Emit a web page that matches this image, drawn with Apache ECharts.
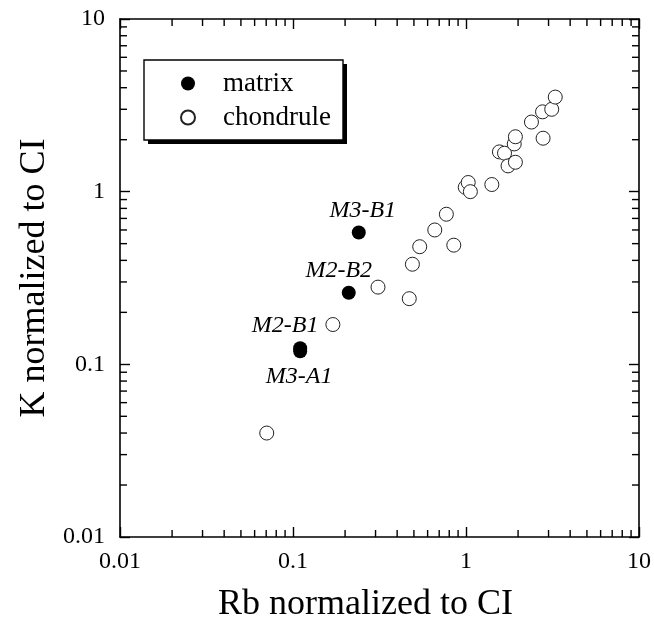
<!DOCTYPE html>
<html lang="en">
<head>
    <meta charset="UTF-8">
    <title>K vs Rb normalized to CI</title>
    <script src="https://cdn.jsdelivr.net/npm/echarts@6/dist/echarts.min.js"></script>
    <style>
        html, body { margin: 0; padding: 0; background: #fff; }
    </style>
</head>
<body>
<div id="main" style="width: 654px;height: 629px;"></div>

<script type="text/javascript">
    // data
    var chondruleX = [0.0705, 0.17, 0.31, 0.47, 0.49, 0.54, 0.66, 0.77, 0.85, 0.99, 1.03, 1.06,
        1.41, 1.56, 1.67, 1.75, 1.93, 1.90, 1.93, 2.39, 2.77, 2.79, 3.13, 3.28];
    var chondruleY = [0.040, 0.17, 0.28, 0.24, 0.38, 0.48, 0.60, 0.74, 0.49, 1.06, 1.13, 1.00,
        1.10, 1.70, 1.67, 1.41, 1.48, 1.89, 2.08, 2.53, 2.90, 2.04, 3.00, 3.53];

    var matrixNames = ['M3-B1', 'M2-B2', 'M2-B1', 'M3-A1'];
    var matrixX = [0.24, 0.21, 0.11, 0.11];
    var matrixY = [0.58, 0.26, 0.124, 0.119];

    var tickLabels = ['0.01', '0.1', '1', '10'];
    var minorTickValues = [];
    for (var k = -2; k <= 0; k++) {
        for (var m = 2; m <= 9; m++) {
            minorTickValues.push(m * Math.pow(10, k));
        }
    }

    // where the sample names sit around their dots
    var labelOffsets = {
        'M3-B1': [4, -22],
        'M2-B2': [-10, -22],
        'M2-B1': [-15, -23],
        'M3-A1': [-1, 25]
    };

    var font = 'Liberation Serif';
    var ink = '#000';

    function tickFormatter(v) {
        return tickLabels[Math.round(Math.log10(v)) + 2];
    }

    function logAxis(pos, showLabel) {
        return {
            type: 'log',
            logBase: 10,
            min: 0.01,
            max: 10,
            position: pos,
            axisLine: {show: true, onZero: false, lineStyle: {color: ink, width: 1.6}},
            axisTick: {show: true, inside: true, length: 10, lineStyle: {color: ink, width: 1.4}},
            splitLine: {show: false},
            minorTick: {show: false},
            axisLabel: {
                show: showLabel,
                formatter: tickFormatter,
                color: ink,
                fontFamily: font,
                fontSize: 24
            }
        };
    }

    var chondruleData = chondruleX.map(function (x, i) { return [x, chondruleY[i]]; });
    var matrixData = matrixX.map(function (x, i) {
        var name = matrixNames[i];
        return {
            name: name,
            value: [x, matrixY[i]],
            label: {offset: labelOffsets[name]}
        };
    });

    var xBottom = logAxis('bottom', true);
    xBottom.axisLabel.margin = 13;
    xBottom.name = 'Rb normalized to CI';
    xBottom.nameLocation = 'middle';
    xBottom.nameGap = 50;
    xBottom.nameTextStyle = {fontFamily: font, fontSize: 36, color: ink, padding: [0, 28, 0, 0]};

    var yLeft = logAxis('left', true);
    yLeft.axisLabel.margin = 15;
    yLeft.name = 'K normalized to CI';
    yLeft.nameLocation = 'middle';
    yLeft.nameGap = 57;
    yLeft.nameTextStyle = {fontFamily: font, fontSize: 36, color: ink};

    var xTop = logAxis('top', false);
    var yRight = logAxis('right', false);

    var myChart = echarts.init(document.getElementById('main'));

    var option = {
        animation: false,
        backgroundColor: '#fff',
        grid: {left: 120, top: 19, right: 14, bottom: 92, containLabel: false},
        xAxis: [xBottom, xTop],
        yAxis: [yLeft, yRight],
        // legend frame with its hard drop shadow
        graphic: [
            {type: 'rect', z: 1, shape: {x: 148, y: 64, width: 199, height: 80}, style: {fill: '#000'}},
            {type: 'rect', z: 2, shape: {x: 144, y: 60, width: 199, height: 80}, style: {fill: '#fff', stroke: ink, lineWidth: 1.4}}
        ],
        legend: {
            data: ['matrix', 'chondrule'],
            orient: 'vertical',
            left: 144,
            top: 60,
            padding: [10, 10, 9, 36],
            itemWidth: 14,
            itemHeight: 14,
            itemGap: 7,
            z: 10,
            textStyle: {
                fontFamily: font,
                fontSize: 27,
                lineHeight: 27,
                color: ink,
                padding: [0, 0, 0, 23]
            }
        },
        series: [
            { // minor ticks on all four sides
                type: 'custom',
                silent: true,
                xAxisIndex: 0,
                yAxisIndex: 0,
                data: minorTickValues.map(function (v) { return [v, v]; }),
                renderItem: function (params, api) {
                    var p = api.coord([api.value(0), api.value(1)]);
                    var cs = params.coordSys;
                    var L = 7;
                    var st = {stroke: ink, lineWidth: 1.4};
                    return {
                        type: 'group',
                        children: [
                            {type: 'line', shape: {x1: p[0], y1: cs.y + cs.height, x2: p[0], y2: cs.y + cs.height - L}, style: st},
                            {type: 'line', shape: {x1: p[0], y1: cs.y, x2: p[0], y2: cs.y + L}, style: st},
                            {type: 'line', shape: {x1: cs.x, y1: p[1], x2: cs.x + L, y2: p[1]}, style: st},
                            {type: 'line', shape: {x1: cs.x + cs.width, y1: p[1], x2: cs.x + cs.width - L, y2: p[1]}, style: st}
                        ]
                    };
                }
            },
            {
                name: 'chondrule',
                type: 'scatter',
                symbol: 'circle',
                symbolSize: 14,
                itemStyle: {color: '#fff', borderColor: '#222', borderWidth: 1, opacity: 1},
                data: chondruleData
            },
            {
                name: 'matrix',
                type: 'scatter',
                symbol: 'circle',
                symbolSize: 14,
                itemStyle: {color: '#000', opacity: 1},
                label: {
                    show: true,
                    position: 'inside',
                    formatter: '{b}',
                    fontFamily: font,
                    fontStyle: 'italic',
                    fontSize: 24,
                    color: ink
                },
                data: matrixData
            }
        ]
    };

    myChart.setOption(option);
</script>
</body>
</html>
